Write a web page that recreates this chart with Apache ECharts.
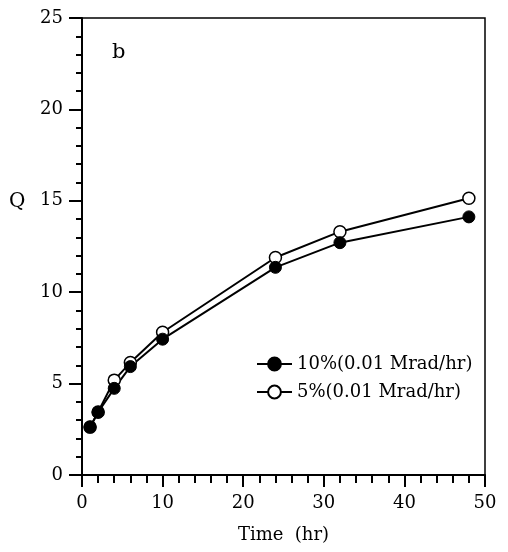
<!DOCTYPE html>
<html><head><meta charset="utf-8">
<script src="https://cdn.jsdelivr.net/npm/echarts@6/dist/echarts.min.js"></script>
<style>html,body{margin:0;padding:0;background:#fff}#c{width:508px;height:552px}</style>
</head><body><div id="c"></div>
<script>
const times = [1, 2, 4, 6, 10, 24, 32, 48];
const q10 = [2.62, 3.43, 4.74, 5.93, 7.43, 11.36, 12.71, 14.12];
const q5 = [2.62, 3.45, 5.19, 6.15, 7.81, 11.9, 13.31, 15.14];
const seriesNames = ['10%(0.01 Mrad/hr)', '5%(0.01 Mrad/hr)'];
const xTicks = [0, 10, 20, 30, 40, 50];
const yTicks = [0, 5, 10, 15, 20, 25];

const F = 'DejaVu Serif';
const chart = echarts.init(document.getElementById('c'), null, {renderer: 'canvas'});
const pair = (xs, ys) => xs.map((x, i) => [x, ys[i]]);
chart.setOption({
  animation: false,
  backgroundColor: '#fff',
  title: {text: 'b', left: 107, top: 37, textStyle: {fontFamily: F, fontSize: 21, fontWeight: 'normal', color: '#000'}},
  graphic: [{
    type: 'text', left: 9, top: 192,
    style: {text: 'Q', fontFamily: F, fontSize: 20, fill: '#000'}
  }],
  grid: {left: 82, right: 23, top: 18, bottom: 77, show: true, borderColor: '#000', borderWidth: 1.5, backgroundColor: 'transparent'},
  legend: {
    orient: 'vertical', left: 251, top: 350, itemWidth: 35, itemHeight: 16, itemGap: 10,
    data: seriesNames,
    textStyle: {fontFamily: F, fontSize: 18, color: '#000'}
  },
  xAxis: {
    type: 'value', min: xTicks[0], max: xTicks[xTicks.length - 1], interval: 10,
    name: 'Time  (hr)', nameLocation: 'middle', nameGap: 51,
    nameTextStyle: {fontFamily: F, fontSize: 18, color: '#000'},
    axisLine: {lineStyle: {color: '#000', width: 2}},
    axisTick: {show: true, inside: false, length: 12, lineStyle: {color: '#000', width: 2}},
    minorTick: {show: true, splitNumber: 5, length: 8, lineStyle: {color: '#000', width: 2}},
    axisLabel: {fontFamily: F, fontSize: 18, color: '#000', margin: 19},
    splitLine: {show: false}
  },
  yAxis: {
    type: 'value', min: yTicks[0], max: yTicks[yTicks.length - 1], interval: 5,
    axisLine: {lineStyle: {color: '#000', width: 2}},
    axisTick: {show: true, inside: false, length: 13, lineStyle: {color: '#000', width: 2}},
    minorTick: {show: true, splitNumber: 5, length: 6, lineStyle: {color: '#000', width: 2}},
    axisLabel: {fontFamily: F, fontSize: 18, color: '#000', margin: 19},
    splitLine: {show: false}
  },
  series: [
    {
      name: seriesNames[1], type: 'line', data: pair(times, q5),
      symbol: 'circle', symbolSize: 12,
      lineStyle: {color: '#000', width: 2},
      itemStyle: {color: '#fff', borderColor: '#000', borderWidth: 1.5}
    },
    {
      name: seriesNames[0], type: 'line', data: pair(times, q10),
      symbol: 'circle', symbolSize: 12,
      lineStyle: {color: '#000', width: 2},
      itemStyle: {color: '#000', borderColor: '#000', borderWidth: 1}
    }
  ]
});
</script></body></html>
